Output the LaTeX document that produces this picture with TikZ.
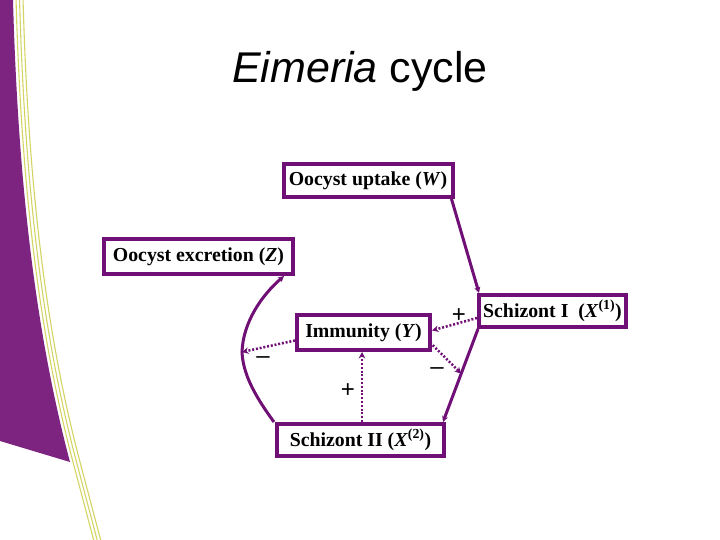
\documentclass[tikz,border=0pt]{standalone}
\usepackage{fontspec}
\setmainfont{Liberation Serif}
\newfontfamily\arialfont{Liberation Sans}
\usetikzlibrary{arrows.meta,calc}
\definecolor{bgpurple}{RGB}{125,35,128}
\definecolor{linepurple}{RGB}{112,16,118}
\definecolor{stripe}{RGB}{212,212,100}
\begin{document}
\begin{tikzpicture}[x=1pt,y=-1pt,
  box/.style={draw=linepurple, line width=4pt, fill=white, inner sep=0pt,
    font=\fontsize{19.8}{21}\selectfont\bfseries, align=center},
  flow/.style={draw=linepurple, line width=3pt, -{Stealth[length=6pt,width=6pt]}},
  infl/.style={draw=linepurple, line width=2.5pt, dash pattern=on 2pt off 1.8pt,
    -{Stealth[length=6.5pt,width=6.5pt]}},
  sign/.style={font=\arialfont\fontsize{24}{24}\selectfont, inner sep=0pt},
  stripeline/.style={draw=stripe, line width=1.1pt}]
\useasboundingbox (0,0) rectangle (720,540);
\fill[white] (0,0) rectangle (720,540);
% background decoration
\fill[bgpurple] (0,0) -- (13,0) .. controls (18,180) and (35,330) .. (70,462) -- (0,441) -- cycle;
\foreach \o in {3,6.5,10}{
  \draw[stripeline] (13+\o,-2) .. controls (18+\o,180) and (35+\o,330) .. (70+\o,462) -- (92+\o,545);
}
% title
\node[font=\arialfont\fontsize{43}{43}\selectfont, anchor=base, inner sep=0pt] (title) at (360,83) {\textit{Eimeria} cycle};
% boxes
\node[box, minimum width=169pt, minimum height=33pt] (W) at (368,180.5) {Oocyst uptake (\textit{W})};
\node[box, minimum width=189pt, minimum height=35pt] (Z) at (198.5,256.5) {Oocyst excretion (\textit{Z})};
\node[box, minimum width=147pt, minimum height=32pt] (S1) at (552.5,311) {Schizont I\ \ (\textit{X}\textsuperscript{(1)})};
\node[box, minimum width=133pt, minimum height=35pt] (Y) at (363.5,332.5) {Immunity (\textit{Y})};
\node[box, minimum width=167pt, minimum height=32pt] (S2) at (360.5,440) {Schizont II (\textit{X}\textsuperscript{(2)})};
% junction points
\coordinate (m1) at ($([xshift=1pt]S1.south west)!0.48!([xshift=-3pt]S2.north east)$);
\coordinate (m2) at (242,352);
% flows
\draw[flow] ([xshift=-3pt]W.south east) -- ([xshift=2pt]S1.north west);
\draw[flow] ([xshift=1pt]S1.south west) -- (m1) -- ([xshift=-3pt]S2.north east);
\draw[flow] ([xshift=-1pt]S2.north west) .. controls (252,392) and (243,372) .. (m2)
  .. controls (243,322) and (262,295) .. ([xshift=-11pt]Z.south east);
% influences
\draw[infl] ([yshift=-8pt]Y.west) -- (m2);
\draw[infl] ([xshift=1.5pt]S2.north) -- ([xshift=-1.5pt]Y.south);
\draw[infl] ([yshift=-7pt]S1.west) -- ([yshift=2pt]Y.east);
\draw[infl] ([yshift=-10pt,xshift=-2pt]Y.east) -- (m1);
% signs
\node[sign] (p1) at (459,316) {+};
\node[sign] (n1) at (437,371) {–};
\node[sign] (p2) at (348,391) {+};
\node[sign] (n2) at (263,360) {–};
\end{tikzpicture}
\end{document}
